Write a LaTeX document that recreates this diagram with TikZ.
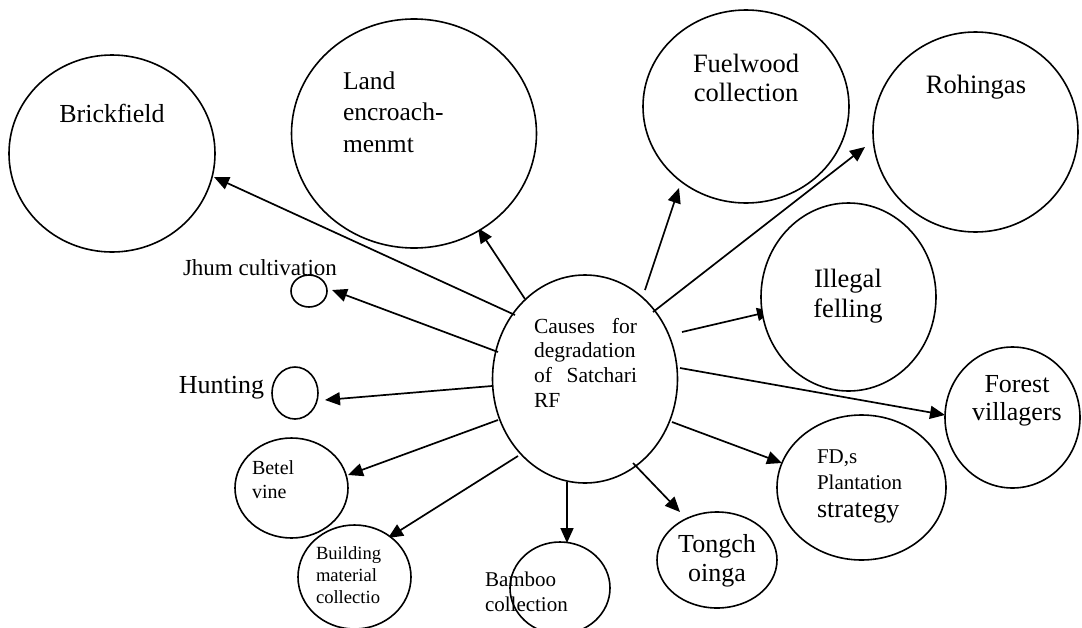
\documentclass[tikz,border=0pt]{standalone}
\usepackage{fontspec}
\setmainfont{Liberation Serif}
\usetikzlibrary{shapes.geometric,arrows.meta}

\newcommand{\fs}[2]{\fontsize{#1}{#2}\selectfont}

\begin{document}
\begin{tikzpicture}[x=1pt,y=-1pt,
  bubble/.style={ellipse,draw,line width=1.6pt,inner sep=0pt,fill=white},
  hub/.style={ellipse,draw,line width=1.6pt,inner sep=0pt},
  arr/.style={line width=1.7pt,-{Triangle[length=15pt,width=13pt]}},
  lbl/.style={inner sep=0pt,outer sep=0pt}]
\useasboundingbox (0,0) rectangle (1082,627);
\clip (0,0) rectangle (1082,627);

% end points of the connectors
\coordinate (s-brick)  at (515,315);  \coordinate (t-brick)  at (214,177);
\coordinate (s-land)   at (525,299);  \coordinate (t-land)   at (478,228);
\coordinate (s-jhum)   at (498,352);  \coordinate (t-jhum)   at (332,290);
\coordinate (s-hunt)   at (492,386);  \coordinate (t-hunt)   at (325,400);
\coordinate (s-betel)  at (498,420);  \coordinate (t-betel)  at (348,475);
\coordinate (s-build)  at (518,456);  \coordinate (t-build)  at (388,538);
\coordinate (s-bamboo) at (567,482);  \coordinate (t-bamboo) at (567,543);
\coordinate (s-tong)   at (633,463);  \coordinate (t-tong)   at (680,512);
\coordinate (s-fds)    at (672,422);  \coordinate (t-fds)    at (782,463);
\coordinate (s-forest) at (680,368);  \coordinate (t-forest) at (945,415);
\coordinate (s-ill)    at (682,332);  \coordinate (t-ill)    at (772,311);
\coordinate (s-roh)    at (653,312);  \coordinate (t-roh)    at (865,147);
\coordinate (s-fuel)   at (645,290);  \coordinate (t-fuel)   at (679,188);

% connectors from the hub
\foreach \n in {brick,land,jhum,hunt,betel,build,bamboo,tong,fds,forest,ill,roh,fuel}
  \draw[arr] (s-\n) -- (t-\n);

% bubbles
\node[hub,minimum width=185pt,minimum height=208pt] (c) at (585,379) {};
\node[bubble,minimum width=206pt,minimum height=197pt] (brick) at (112,153.5) {};
\node[bubble,minimum width=245pt,minimum height=229pt] (land) at (414,133.5) {};
\node[bubble,minimum width=206pt,minimum height=193pt] (fuel) at (746,106.5) {};
\node[bubble,minimum width=205pt,minimum height=200pt] (roh) at (975.5,132) {};
\node[bubble,minimum width=175pt,minimum height=188pt] (ill) at (848.5,297) {};
\node[bubble,minimum width=135pt,minimum height=141pt] (forest) at (1012.5,417.5) {};
\node[bubble,minimum width=169pt,minimum height=145pt] (fds) at (861.5,487.5) {};
\node[bubble,minimum width=120pt,minimum height=96pt] (tong) at (717,560) {};
\node[bubble,minimum width=100pt,minimum height=92pt] (bamboo) at (560,588) {};
\node[bubble,minimum width=113pt,minimum height=104pt] (build) at (354.5,577) {};
\node[bubble,minimum width=113pt,minimum height=100pt] (betel) at (291.5,488) {};
\node[bubble,minimum width=46pt,minimum height=52pt] (hunt) at (295,393) {};
\node[bubble,minimum width=36pt,minimum height=32pt] (jhum) at (309,291) {};

% texts
\node[lbl,anchor=base west] (c-t) at (534,333)
  {\parbox[t]{103pt}{\fs{21.5}{24.7}\hyphenpenalty=10000\tolerance=10000\noindent
   Causes for degradation of Satchari RF}};
\node[lbl,anchor=base] (brick-t) at (112,122) {\fs{26}{30}Brickfield};
\node[lbl,anchor=base west] (land-t) at (343,89)
  {\parbox[t]{150pt}{\fs{25.5}{31.5}Land\\encroach-\\menmt}};
\node[lbl,anchor=base] (fuel-t) at (746,72)
  {\parbox[t]{160pt}{\centering\fs{26.5}{29}Fuelwood\\collection}};
\node[lbl,anchor=base] (roh-t) at (976,93) {\fs{26.5}{30}Rohingas};
\node[lbl,anchor=base] (ill-t) at (848,287)
  {\parbox[t]{140pt}{\centering\fs{26.5}{30}Illegal\\felling}};
\node[lbl,anchor=base] (forest-t) at (1017,392)
  {\parbox[t]{130pt}{\centering\fs{26}{28}Forest\\villagers}};
\node[lbl,anchor=base west] (fds-t) at (817,463)
  {\parbox[t]{150pt}{\fs{21}{26}FD,s\par Plantation\par\fs{26}{28}strategy}};
\node[lbl,anchor=base] (tong-t) at (717,552)
  {\parbox[t]{120pt}{\centering\fs{26}{29}Tongch\\oinga}};
\node[lbl,anchor=base west] (bamboo-t) at (485,586)
  {\parbox[t]{120pt}{\fs{21}{25}Bamboo\\collection}};
\node[lbl,anchor=base west] (build-t) at (316,559)
  {\parbox[t]{100pt}{\fs{18.6}{22}Building\\material\\collectio}};
\node[lbl,anchor=base west] (betel-t) at (252,474)
  {\parbox[t]{80pt}{\fs{20}{24}Betel\\vine}};
\node[lbl,anchor=base east] (hunt-t) at (264,393) {\fs{26}{30}Hunting};
\node[lbl,anchor=base west] (jhum-t) at (183,275) {\fs{23}{27}Jhum cultivation};
\end{tikzpicture}
\end{document}
